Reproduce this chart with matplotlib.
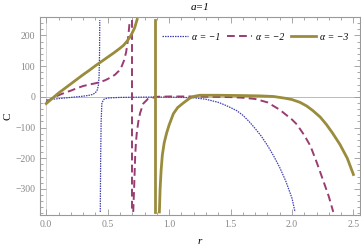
import numpy as np
import matplotlib

matplotlib.use('Agg')
import matplotlib.pyplot as plt
from matplotlib.ticker import MultipleLocator

plt.rcParams['font.family'] = ['Liberation Serif', 'DejaVu Serif']

# alpha = -1 (two branches around pole r~0.436)
r1_left = [0.0, 0.05, 0.1, 0.15, 0.2, 0.25, 0.3, 0.35, 0.38, 0.40, 0.415, 0.425,
           0.43, 0.434, 0.436]
c1_left = [-10, -8, -6, -4, -2, 0, 2, 5, 8, 13, 22, 38, 65, 140, 250]
r1_right = [0.440, 0.443, 0.447, 0.453, 0.47, 0.5, 0.6, 0.8, 1.0, 1.1, 1.2, 1.3,
            1.4, 1.45, 1.5, 1.55, 1.6, 1.65, 1.7, 1.75, 1.8, 1.85, 1.9, 1.95,
            2.0, 2.025]
c1_right = [-375, -200, -80, -20, -8, -4, -2, -1, -1, -2, -3, -8,
            -18, -26, -35, -45, -60, -80, -103, -128, -158, -192, -230, -275,
            -330, -375]

# alpha = -2 (pole r~0.70)
r2_left = [0.0, 0.05, 0.1, 0.15, 0.2, 0.25, 0.3, 0.35, 0.4, 0.44, 0.48, 0.52,
           0.56, 0.59, 0.615, 0.635, 0.65, 0.66, 0.67, 0.68]
c2_left = [-17, -5, 5, 13, 20, 28, 35, 40, 44, 48, 54, 62,
           72, 84, 100, 120, 145, 170, 205, 250]
r2_pole = 0.700
r2_right = [0.708, 0.715, 0.724, 0.73, 0.737, 0.75, 0.764, 0.79, 0.83, 0.9, 1.0,
            1.2, 1.5, 1.6, 1.7, 1.8, 1.9, 2.0, 2.04, 2.1, 2.15, 2.2, 2.25, 2.3,
            2.336]
c2_right = [-375, -302, -194, -150, -118, -80, -53, -22, -6, 0, 1,
            1, -1, -3, -7, -18, -42, -74, -90, -125, -160, -212, -268, -325,
            -375]

# alpha = -3 (pole r~0.886)
r3_left = [0.0, 0.05, 0.1, 0.15, 0.2, 0.25, 0.3, 0.35, 0.4, 0.45, 0.5, 0.55,
           0.6, 0.63, 0.66, 0.69, 0.72, 0.74]
c3_left = [-22, -5, 12, 27, 42, 57, 72, 86, 101, 115, 129, 143,
           158, 168, 182, 200, 225, 252]
r3_pole = 0.886
r3_right = [0.921, 0.927, 0.935, 0.945, 0.96, 0.98, 1.0, 1.035, 1.07, 1.116,
            1.17, 1.21, 1.25, 1.4, 1.6, 1.74, 1.85, 1.95, 2.0, 2.065, 2.12,
            2.17, 2.23, 2.28, 2.33, 2.39, 2.45, 2.5]
c3_right = [-375, -300, -240, -190, -150, -118, -92, -55, -35, -20,
            -4, 2, 5, 5, 4, 3, 1, -5, -9, -18, -30,
            -45, -66, -90, -118, -155, -200, -253]

ylims = [-375, 250]

blue = '#4040b0'
magenta = '#993d71'
olive = '#998c3d'

fig = plt.figure(figsize=(3.61, 2.46), dpi=100)
ax = fig.add_axes([0.111, 0.126, 0.886, 0.805])

ax.axhline(0, color='#b0b0b0', lw=0.6, zorder=0)
ax.axvline(0, color='#d0d0d0', lw=0.6, zorder=0)

ds1 = (0, (1.2, 0.8))
ax.plot(r1_left, c1_left, color=blue, lw=0.9, ls=ds1, label='α = −1')
ax.plot(r1_right, c1_right, color=blue, lw=0.9, ls=ds1)

ds2 = (0, (4, 2.2))
ax.plot(r2_left, c2_left, color=magenta, lw=1.4, ls=ds2, label='α = −2')
ax.plot([r2_pole, r2_pole], ylims[::-1], color=magenta, lw=1.4, ls=ds2)
ax.plot(r2_right, c2_right, color=magenta, lw=1.4, ls=ds2)

ax.plot(r3_left, c3_left, color=olive, lw=2.0, label='α = −3')
ax.plot([r3_pole, r3_pole], ylims[::-1], color=olive, lw=2.0)
ax.plot(r3_right, c3_right, color=olive, lw=2.0)

ax.set_xlim(-0.05, 2.553)
ax.set_ylim(-385, 260)

ax.xaxis.set_minor_locator(MultipleLocator(0.1))
ax.yaxis.set_minor_locator(MultipleLocator(20))
ax.tick_params(which='both', direction='in', top=True, right=True,
               colors='#999999', labelcolor='#888888', labelsize=7, width=0.6)
ax.tick_params(which='major', length=4)
ax.tick_params(which='minor', length=2)
ax.set_xticks([0.0, 0.5, 1.0, 1.5, 2.0, 2.5])
ax.set_xticklabels(['0.0', '0.5', '1.0', '1.5', '2.0', '2.5'])
ax.set_yticks([-300, -200, -100, 0, 100, 200])
ax.set_yticklabels(['\u2212300', '\u2212200', '\u2212100', '0', '100', '200'])
for s in ax.spines.values():
    s.set_color('#999999')
    s.set_linewidth(0.8)

ax.set_xlabel('r', fontsize=8, style='italic', labelpad=6)
ax.set_ylabel('C', fontsize=8, labelpad=2)
ax.set_title('a=1', fontsize=8, style='italic', pad=5)

leg = ax.legend(loc='upper right', ncol=3, frameon=False,
                prop={'size': 7, 'style': 'italic'},
                handlelength=2.6, columnspacing=0.7, handletextpad=0.4,
                borderaxespad=0.3, bbox_to_anchor=(0.985, 0.955))

fig.savefig('out.png', dpi=100)
